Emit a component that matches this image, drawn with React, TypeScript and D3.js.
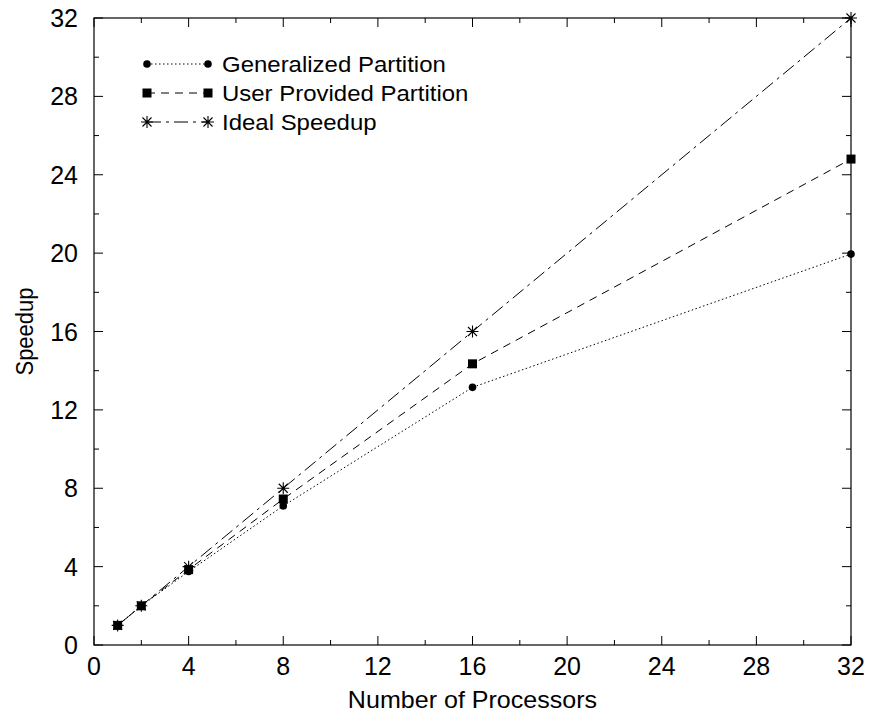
import { useEffect, useRef } from 'react';
import * as d3 from 'd3';

// processors on the x axis
const processors = [1, 2, 4, 8, 16, 32];

// speedup per series
const generalized = [1, 2, 3.75, 7.1, 13.15, 19.95];
const userProvided = [1, 2, 3.85, 7.45, 14.35, 24.8];
const ideal = [1, 2, 4, 8, 16, 32];

const seriesNames = ['Generalized Partition', 'User Provided Partition', 'Ideal Speedup'];
const xTicks = [0, 4, 8, 12, 16, 20, 24, 28, 32];
const yTicks = [0, 4, 8, 12, 16, 20, 24, 28, 32];

const WIDTH = 873;
const HEIGHT = 719;

export default function App() {
  const ref = useRef<SVGSVGElement>(null);

  useEffect(() => {
    const svg = d3.select(ref.current);
    svg.selectAll('*').remove();

    const left = 94, right = 851, top = 18, bottom = 645;
    const font = "'Liberation Sans', Arial, Helvetica, sans-serif";
    const stretch = 1.09; // the original text is a little wider than tall

    const x = d3.scaleLinear().domain([0, 32]).range([left, right]);
    const y = d3.scaleLinear().domain([0, 32]).range([bottom, top]);

    const g = svg.append('g');

    // frame
    g.append('rect')
      .attr('x', left).attr('y', top)
      .attr('width', right - left).attr('height', bottom - top)
      .attr('fill', 'none').attr('stroke', '#000').attr('stroke-width', 1.2);

    // inward ticks on all four sides, majors every 4, minors every 2
    const minor = d3.range(0, 33, 2);
    minor.forEach(function(v) {
      const len = v % 4 === 0 ? 9 : 5;
      g.append('line').attr('x1', x(v)).attr('x2', x(v)).attr('y1', bottom).attr('y2', bottom - len).attr('stroke', '#000');
      g.append('line').attr('x1', x(v)).attr('x2', x(v)).attr('y1', top).attr('y2', top + len).attr('stroke', '#000');
      g.append('line').attr('y1', y(v)).attr('y2', y(v)).attr('x1', left).attr('x2', left + len).attr('stroke', '#000');
      g.append('line').attr('y1', y(v)).attr('y2', y(v)).attr('x1', right).attr('x2', right - len).attr('stroke', '#000');
    });

    // tick labels
    g.selectAll('.xlab').data(xTicks).enter()
      .append('text')
      .attr('x', function(d) { return x(d); })
      .attr('y', bottom + 30)
      .attr('text-anchor', 'middle')
      .style('font-family', font).style('font-size', '25px')
      .text(function(d) { return d; });

    g.selectAll('.ylab').data(yTicks).enter()
      .append('text')
      .attr('x', left - 16)
      .attr('y', function(d) { return y(d); })
      .attr('dy', '0.36em')
      .attr('text-anchor', 'end')
      .style('font-family', font).style('font-size', '25px')
      .text(function(d) { return d; });

    // axis titles
    g.append('text')
      .attr('transform', 'translate(' + ((left + right) / 2) + ',708) scale(' + stretch + ',1)')
      .attr('text-anchor', 'middle')
      .style('font-family', font).style('font-size', '23px')
      .text('Number of Processors');

    g.append('text')
      .attr('transform', 'translate(33,' + ((top + bottom) / 2) + ') rotate(-90) scale(1,' + stretch + ')')
      .attr('text-anchor', 'middle')
      .style('font-family', font).style('font-size', '22px')
      .text('Speedup');

    const all = [generalized, userProvided, ideal];
    const dashes = ['1.5,2.5', '8,6', '14,5,3,5'];
    const line = d3.line<number>()
      .x(function(d, i) { return x(processors[i]); })
      .y(function(d) { return y(d); });

    // markers
    function drawMarker(sel: any, kind: number, cx: number, cy: number) {
      if (kind === 0) {
        sel.append('circle').attr('cx', cx).attr('cy', cy).attr('r', 3.8).attr('fill', '#000');
      } else if (kind === 1) {
        sel.append('rect').attr('x', cx - 4.5).attr('y', cy - 4.5).attr('width', 9).attr('height', 9).attr('fill', '#000');
      } else {
        const s = 6;
        const p = 'M' + (cx - s) + ',' + cy + 'H' + (cx + s)
          + 'M' + cx + ',' + (cy - s) + 'V' + (cy + s)
          + 'M' + (cx - s * 0.75) + ',' + (cy - s * 0.75) + 'L' + (cx + s * 0.75) + ',' + (cy + s * 0.75)
          + 'M' + (cx - s * 0.75) + ',' + (cy + s * 0.75) + 'L' + (cx + s * 0.75) + ',' + (cy - s * 0.75);
        sel.append('path').attr('d', p).attr('stroke', '#000').attr('stroke-width', 1.1).attr('fill', 'none');
      }
    }

    // series lines, drawn ideal first
    [2, 1, 0].forEach(function(k) {
      g.append('path')
        .datum(all[k])
        .attr('d', line)
        .attr('fill', 'none')
        .attr('stroke', '#000')
        .attr('stroke-width', 1)
        .attr('stroke-dasharray', dashes[k]);
    });
    [2, 1, 0].forEach(function(k) {
      all[k].forEach(function(v, i) {
        drawMarker(g, k, x(processors[i]), y(v));
      });
    });

    // legend
    const legendY = [64, 93, 122];
    seriesNames.forEach(function(name, k) {
      const ly = legendY[k];
      g.append('line')
        .attr('x1', 147).attr('x2', 208).attr('y1', ly).attr('y2', ly)
        .attr('stroke', '#000').attr('stroke-dasharray', dashes[k]);
      drawMarker(g, k, 147, ly);
      drawMarker(g, k, 208, ly);
      g.append('text')
        .attr('transform', 'translate(222,' + (ly + 8) + ') scale(' + stretch + ',1)')
        .style('font-family', font).style('font-size', '22px')
        .text(name);
    });
  }, []);

  return (
    <svg ref={ref} width={WIDTH} height={HEIGHT} style={{ display: 'block', margin: '-8px' }} />
  );
}
